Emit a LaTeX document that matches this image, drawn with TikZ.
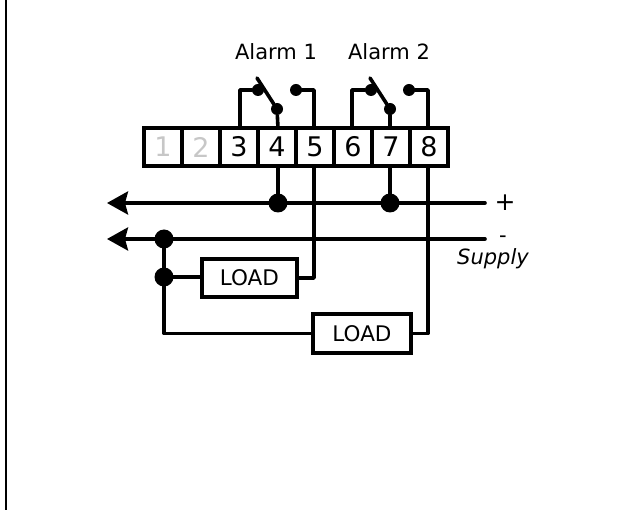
\documentclass[tikz,border=0pt]{standalone}
\usepackage{fontspec}
\setmainfont{DejaVu Sans}
\usetikzlibrary{arrows.meta}
\definecolor{dimdigit}{gray}{0.78}
\tikzset{
  x=1pt,y=-1pt,
  wire/.style={line width=3.6pt,line cap=round,line join=round},
  bus/.style={wire,-{Stealth[length=21pt,width=23pt,inset=3pt]}},
  term/.style={draw,line width=3.8pt,minimum width=38pt,minimum height=38pt,inner sep=0pt,font=\fontsize{27}{27}\selectfont,text=black,anchor=center},
  loadbox/.style={draw,line width=3.6pt,inner sep=0pt,font=\fontsize{21.5}{21.5}\selectfont,anchor=center,fill=white},
  label/.style={inner sep=0pt,anchor=center,font=\fontsize{21}{21}\selectfont},
  contact/.style={circle,fill=black,inner sep=0pt,minimum size=12pt},
  joint/.style={circle,fill=black,inner sep=0pt,minimum size=19pt}
}
\begin{document}
\begin{tikzpicture}
\useasboundingbox (0,0) rectangle (621,510);
\fill[white] (0,0) rectangle (621,510);
\coordinate (fa) at (6,0);
\coordinate (fb) at (6,510);
\draw[line width=2pt] (fa) -- (fb);
\coordinate (pr) at (485,203);
\coordinate (pl) at (107,203);
\coordinate (nr) at (485,239);
\coordinate (nl) at (107,239);
\node[term,text=dimdigit] (t1) at (163,147) {1};
\node[term,text=dimdigit] (t2) at (201,147) {2};
\node[term] (t3) at (239,147) {3};
\node[term] (t4) at (277,147) {4};
\node[term] (t5) at (315,147) {5};
\node[term] (t6) at (353,147) {6};
\node[term] (t7) at (391,147) {7};
\node[term] (t8) at (429,147) {8};
\node[contact] (a1c) at (258,90) {};
\node[contact] (a1m) at (277,109) {};
\node[contact] (a1o) at (296,90) {};
\node[contact] (a2c) at (371,90) {};
\node[contact] (a2m) at (390,109) {};
\node[contact] (a2o) at (409,90) {};
\coordinate (a1t) at (257,78);
\coordinate (a2t) at (370,78);
\node[joint] (j4) at (278,203) {};
\node[joint] (j7) at (390,203) {};
\node[joint] (jn) at (164,239) {};
\node[joint] (jl) at (164,277) {};
\node[loadbox,minimum width=95pt,minimum height=38pt] (l1) at (249.5,278) {LOAD};
\node[loadbox,minimum width=98pt,minimum height=39pt] (l2) at (362,333.5) {LOAD};
\draw[bus] (pr) -- (pl);
\draw[bus] (nr) -- (nl);
\draw[wire] (240,128) |- (a1c);
\draw[wire] (a1t) -- (a1m);
\draw[wire] (a1m) -- (278,128);
\draw[wire] (a1o) -| (314,128);
\draw[wire] (352,128) |- (a2c);
\draw[wire] (a2t) -- (a2m);
\draw[wire] (a2m) -- (390,128);
\draw[wire] (a2o) -| (428,128);
\draw[wire] (278,166) -- (j4);
\draw[wire] (390,166) -- (j7);
\draw[wire] (314,166) |- (l1.east);
\draw[wire] (428,166) |- (l2.east);
\draw[wire] (jn) -- (jl);
\draw[wire] (jl) -- (jl -| l1.west);
\draw[wire] (jl) |- (l2.west);
\node[label] (al1) at (276,52) {Alarm 1};
\node[label] (al2) at (389,52) {Alarm 2};
\node[label,font=\fontsize{25}{25}\selectfont] (plus) at (505,203) {+};
\node[label] (minus) at (503,239) {-};
\node[label,font=\fontsize{21}{21}\selectfont\itshape] (sup) at (493,259) {Supply};
\end{tikzpicture}
\end{document}
